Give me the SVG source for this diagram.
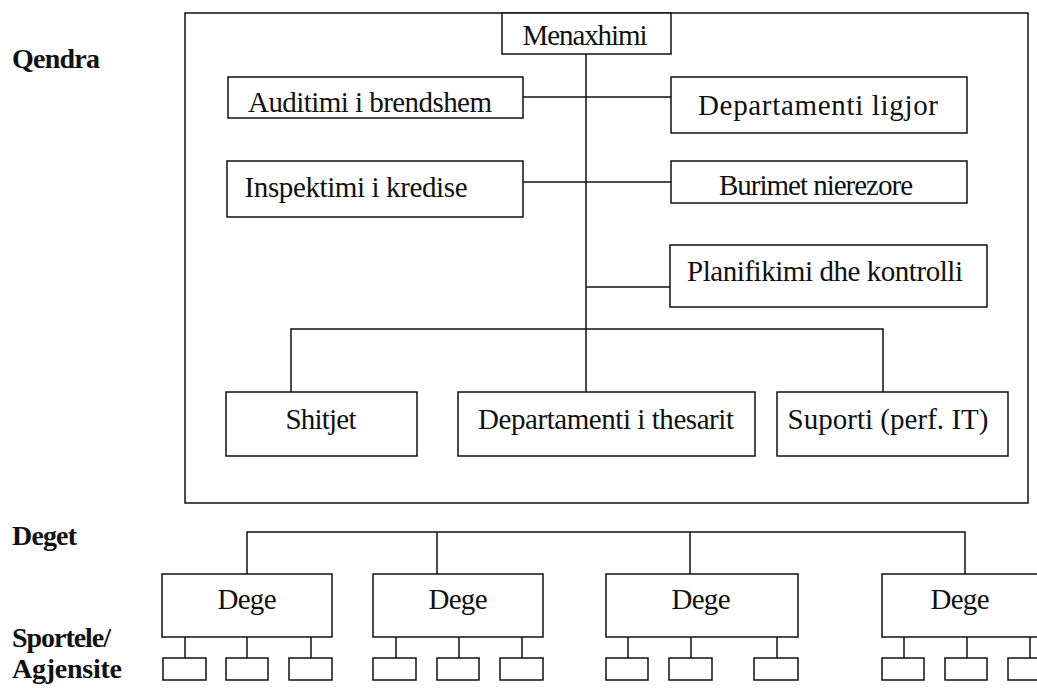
<svg xmlns="http://www.w3.org/2000/svg" width="1037" height="688" viewBox="0 0 1037 688">
<style>
.bx{fill:#fff;stroke:#111;stroke-width:1.5}
.fr{fill:none;stroke:#111;stroke-width:1.5}
.ln{stroke:#111;stroke-width:1.5;fill:none}
.t{font-family:"Liberation Serif","Times New Roman",serif;font-size:29px;fill:#111;text-anchor:middle}
.lb{font-family:"Liberation Serif","Times New Roman",serif;font-size:28px;font-weight:bold;fill:#111}
</style>
<rect width="1037" height="688" fill="#fff"/>
<g id="labels">
<text class="lb" x="12" y="68" textLength="88">Qendra</text>
<text class="lb" x="12" y="545" textLength="65">Deget</text>
<text class="lb" x="12" y="647" font-size="26" textLength="99">Sportele/</text>
<text class="lb" x="12" y="678" font-size="26" textLength="110">Agjensite</text>
</g>
<g id="qendra-frame"><rect class="fr" x="185" y="13" width="843" height="490"/></g>
<g id="connectors">
<path class="ln" d="M586 54V392M523 97H671M523 182H671M586 287H670M291 392V329H883V392"/>
<path class="ln" d="M247 574V532H965V574M437 532V574M690 532V574"/>
<path class="ln" d="M185 637V658M247 637V658M311 637V658M396 637V658M459 637V658M522 637V658M628 637V658M691 637V658M777 637V658M904 637V658M967 637V658M1030 637V658"/>
</g>
<g id="menaxhimi"><rect class="bx" x="502" y="13" width="169" height="41"/><text class="t" x="585" y="45" font-size="27" textLength="125">Menaxhimi</text></g>
<g id="auditimi"><rect class="bx" x="228" y="77" width="295" height="41"/><text class="t" x="370" y="112" textLength="244">Auditimi i brendshem</text></g>
<g id="ligjor"><rect class="bx" x="671" y="77" width="296" height="56"/><text class="t" x="818" y="115" textLength="240">Departamenti ligjor</text></g>
<g id="inspektimi"><rect class="bx" x="227" y="161" width="296" height="56"/><text class="t" x="356" y="197" textLength="223">Inspektimi i kredise</text></g>
<g id="burimet"><rect class="bx" x="671" y="161" width="296" height="42"/><text class="t" x="816" y="195" textLength="194">Burimet nierezore</text></g>
<g id="planifikimi"><rect class="bx" x="670" y="245" width="317" height="62"/><text class="t" x="825" y="281" textLength="276">Planifikimi dhe kontrolli</text></g>
<g id="shitjet"><rect class="bx" x="226" y="392" width="191" height="64"/><text class="t" x="321" y="429" textLength="71">Shitjet</text></g>
<g id="thesari"><rect class="bx" x="458" y="392" width="297" height="64"/><text class="t" x="606" y="429" textLength="256">Departamenti i thesarit</text></g>
<g id="suporti"><rect class="bx" x="777" y="392" width="231" height="64"/><text class="t" x="888" y="429" textLength="201">Suporti (perf. IT)</text></g>
<g id="dege1"><rect class="bx" x="162" y="574" width="170" height="63"/><text class="t" x="247" y="609" textLength="59">Dege</text></g>
<g id="dege2"><rect class="bx" x="373" y="574" width="170" height="63"/><text class="t" x="458" y="609" textLength="59">Dege</text></g>
<g id="dege3"><rect class="bx" x="606" y="574" width="192" height="63"/><text class="t" x="701" y="609" textLength="59">Dege</text></g>
<g id="dege4"><rect class="bx" x="882" y="574" width="158" height="63"/><text class="t" x="960" y="609" textLength="59">Dege</text></g>
<g id="sportele">
<rect class="bx" x="163" y="658" width="43" height="22"/>
<rect class="bx" x="226" y="658" width="42" height="22"/>
<rect class="bx" x="289" y="658" width="43" height="22"/>
<rect class="bx" x="373" y="658" width="43" height="22"/>
<rect class="bx" x="437" y="658" width="42" height="22"/>
<rect class="bx" x="500" y="658" width="43" height="22"/>
<rect class="bx" x="606" y="658" width="42" height="22"/>
<rect class="bx" x="669" y="658" width="43" height="22"/>
<rect class="bx" x="754" y="658" width="44" height="22"/>
<rect class="bx" x="882" y="658" width="42" height="22"/>
<rect class="bx" x="945" y="658" width="42" height="22"/>
<rect class="bx" x="1008" y="658" width="40" height="22"/>
</g>
</svg>
